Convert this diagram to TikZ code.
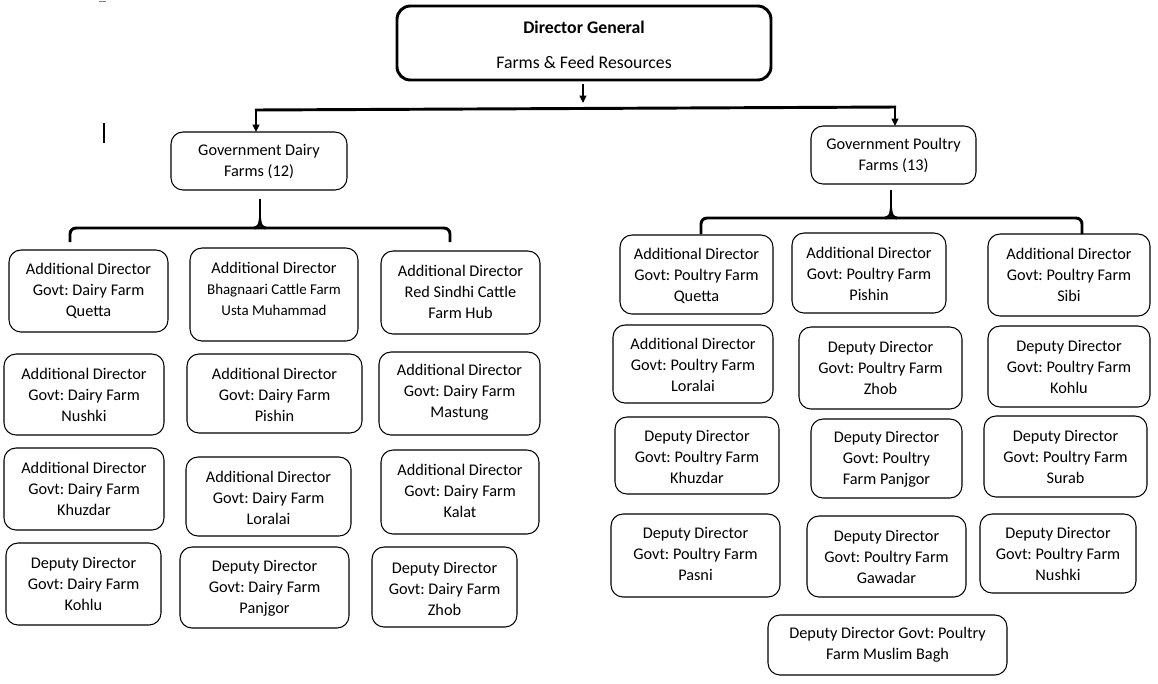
\documentclass[tikz,border=0pt]{standalone}
\usepackage{fontspec}
\setmainfont{Carlito}
\usetikzlibrary{arrows.meta}
\frenchspacing
\begin{document}
\frenchspacing
\begin{tikzpicture}[x=0.75pt,y=-0.75pt,
  box/.style={draw, line width=0.8pt, rounded corners=9pt, inner sep=0pt},
  dgbox/.style={draw, line width=2.2pt, rounded corners=10pt, inner sep=0pt},
  txt/.style={align=center, inner sep=0pt, font=\fontsize{12.2pt}{15.75pt}\selectfont},
  conn/.style={line width=2.2pt, line cap=butt},
  arr/.style={line width=2pt, -{Triangle[length=5.5pt,width=5pt]}},
  brc/.style={line width=2.2pt, rounded corners=4.5pt}]
\useasboundingbox (0,0) rectangle (1158,683);
\newcommand\bx[7]{%
  \node[box, minimum width={(#4-#2)*0.75pt}, minimum height={(#5-#3)*0.75pt}] (#1) at ({(#2+#4)/2},{(#3+#5)/2}) {};
  \node[txt] (#1t) at ({(#2+#4)/2},#6) {#7};}
% stray marks
\draw[line width=0.6pt, gray] (99,1) -- (106,1);
\draw[line width=0.8pt] (104,123) -- (104,143);
% Director General
\node[dgbox, minimum width={374*0.75pt}, minimum height={74*0.75pt}] (dg) at (584,43) {};
\node[txt, font=\fontsize{13.3pt}{15pt}\selectfont\bfseries] (dgt1) at (584,27) {Director General};
\node[txt, font=\fontsize{13.3pt}{15pt}\selectfont] (dgt2) at (584,62) {Farms \& Feed Resources};
% level 2
\bx{gd}{171}{132}{347}{190}{162}{Government Dairy\\Farms (12)}
\bx{gp}{811}{126}{976}{184}{155.5}{Government Poultry\\Farms (13)}
% connectors from DG
\coordinate (dgout) at (583,84);
\coordinate (hub) at (583,103);
\coordinate (hl) at (256,110);
\coordinate (hr) at (895,107);
\draw[arr, line width=1.8pt] (dgout) -- (hub);
\draw[conn] ([xshift=-0.8pt]hl) -- ([xshift=0.8pt]hr);
\draw[arr] (hl) -- (256,132);
\draw[arr] (hr) -- (895,126);
% dairy brace
\coordinate (gdb) at (260,199);
\draw[brc] (70,242) -- (70,228) -- (260,228);
\draw[brc] (450,242) -- (450,228) -- (260,228);
\draw[conn] (gdb) -- (260,222);
\draw[line width=2.2pt] (254,228) to[out=0,in=-90] (260,221) to[out=-90,in=180] (266,228);
% poultry brace
\coordinate (gpb) at (891,190);
\draw[brc] (701,234) -- (701,218) -- (891,218);
\draw[brc] (1082,234) -- (1082,218) -- (891,218);
\draw[conn] (gpb) -- (891,212);
\draw[line width=2.2pt] (885,218) to[out=0,in=-90] (891,211) to[out=-90,in=180] (897,218);
% dairy boxes
\bx{a1}{9}{250}{168}{332}{290.5}{Additional Director\\Govt: Dairy Farm\\Quetta}
\bx{a2}{190}{248}{358}{341}{288.5}{Additional Director\\{\fontsize{11.2pt}{13pt}\selectfont Bhagnaari Cattle Farm}\\{\fontsize{11.2pt}{13pt}\selectfont Usta Muhammad}}
\bx{a3}{381}{251}{540}{334}{291.5}{Additional Director\\Red Sindhi Cattle\\Farm Hub}
\bx{b1}{4}{354}{164}{435}{394.5}{Additional Director\\Govt: Dairy Farm\\Nushki}
\bx{b2}{187}{354}{362}{433}{394.5}{Additional Director\\Govt: Dairy Farm\\Pishin}
\bx{b3}{379}{352}{540}{435}{392.5}{Additional Director\\Govt: Dairy Farm\\Mastung}
\bx{c1}{4}{448}{164}{530}{488.5}{Additional Director\\Govt: Dairy Farm\\Khuzdar}
\bx{c2}{186}{457}{351}{536}{497.5}{Additional Director\\Govt: Dairy Farm\\Loralai}
\bx{c3}{381}{450}{539}{534}{490.5}{Additional Director\\Govt: Dairy Farm\\Kalat}
\bx{d1}{6}{543}{161}{625}{583.5}{Deputy Director\\Govt: Dairy Farm\\Kohlu}
\bx{d2}{180}{547}{349}{628}{588.5}{Deputy Director\\Govt: Dairy Farm\\Panjgor}
\bx{d3}{372}{547}{517}{627}{588.5}{Deputy Director\\Govt: Dairy Farm\\Zhob}
% poultry boxes
\bx{p1}{620}{235}{773}{314}{276}{Additional Director\\Govt: Poultry Farm\\Quetta}
\bx{p2}{792}{233}{946}{313}{274}{Additional Director\\Govt: Poultry Farm\\Pishin}
\bx{p3}{988}{234}{1150}{316}{275}{Additional Director\\Govt: Poultry Farm\\Sibi}
\bx{q1}{613}{325}{773}{403}{365}{Additional Director\\Govt: Poultry Farm\\Loralai}
\bx{q2}{799}{327}{962}{409}{368}{Deputy Director\\Govt: Poultry Farm\\Zhob}
\bx{q3}{988}{326}{1150}{407}{367}{Deputy Director\\Govt: Poultry Farm\\Kohlu}
\bx{r1}{615}{417}{779}{494}{457}{Deputy Director\\Govt: Poultry Farm\\Khuzdar}
\bx{r2}{811}{419}{962}{498}{459}{Deputy Director\\Govt: Poultry\\Farm Panjgor}
\bx{r3}{984}{416}{1147}{497}{457}{Deputy Director\\Govt: Poultry Farm\\Surab}
\bx{s1}{611}{514}{780}{597}{554}{Deputy Director\\Govt: Poultry Farm\\Pasni}
\bx{s2}{807}{516}{966}{597}{557}{Deputy Director\\Govt: Poultry Farm\\Gawadar}
\bx{s3}{980}{514}{1136}{593}{554}{Deputy Director\\Govt: Poultry Farm\\Nushki}
\bx{t1}{768}{615}{1007}{675}{644.5}{Deputy Director Govt: Poultry\\Farm Muslim Bagh}
\end{tikzpicture}
\end{document}
